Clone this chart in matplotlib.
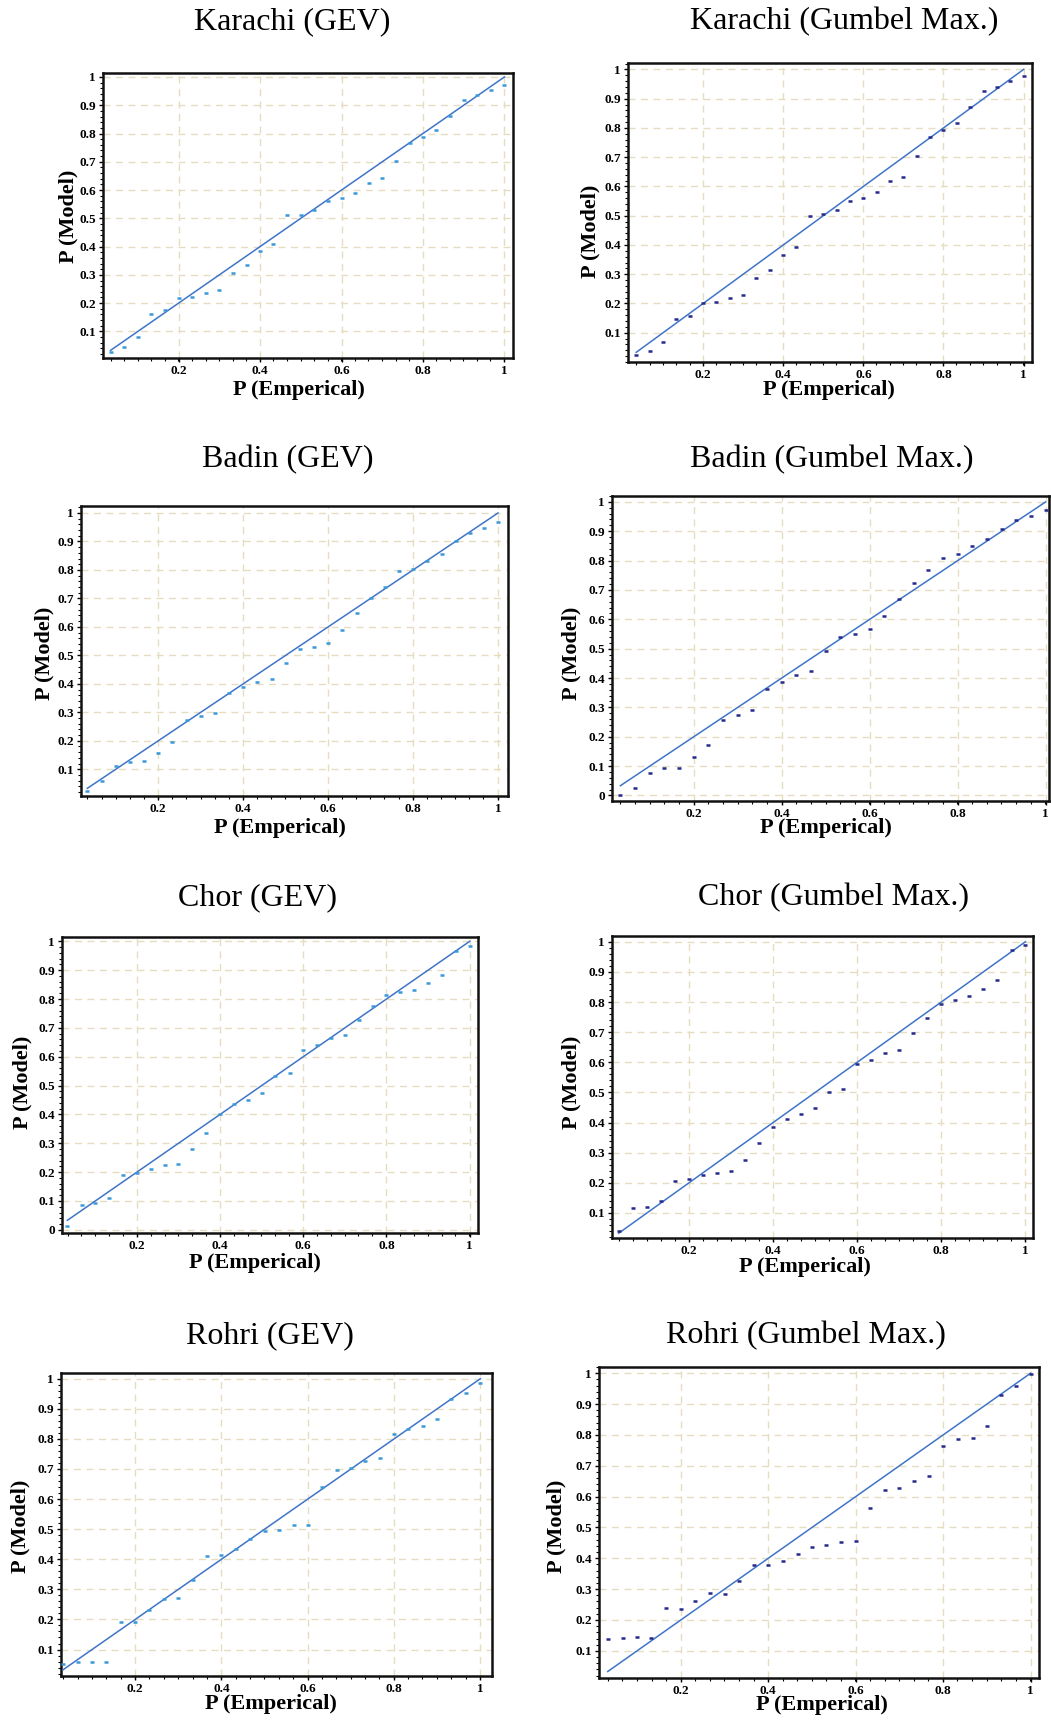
import matplotlib
matplotlib.use("Agg")
import matplotlib.pyplot as plt
from matplotlib.ticker import MultipleLocator, FuncFormatter

plt.rcParams['font.family'] = ['Liberation Serif', 'DejaVu Serif']

# empirical plotting positions (30 ranked years)
p_emp = [0.033, 0.067, 0.100, 0.133, 0.167, 0.200, 0.233, 0.267, 0.300, 0.333,
         0.367, 0.400, 0.433, 0.467, 0.500, 0.533, 0.567, 0.600, 0.633, 0.667,
         0.700, 0.733, 0.767, 0.800, 0.833, 0.867, 0.900, 0.933, 0.967, 1.000]

# model probabilities per station / distribution
karachi_gev = [0.027, 0.045, 0.081, 0.163, 0.175, 0.217, 0.222, 0.236, 0.245, 0.307,
               0.334, 0.383, 0.410, 0.512, 0.512, 0.528, 0.560, 0.572, 0.590, 0.624,
               0.643, 0.704, 0.767, 0.788, 0.814, 0.862, 0.917, 0.935, 0.953, 0.973]
karachi_gum = [0.024, 0.037, 0.068, 0.148, 0.157, 0.202, 0.205, 0.219, 0.228, 0.288,
               0.316, 0.367, 0.393, 0.500, 0.506, 0.520, 0.549, 0.562, 0.581, 0.617,
               0.634, 0.705, 0.768, 0.793, 0.818, 0.870, 0.927, 0.941, 0.961, 0.978]
badin_gev = [0.022, 0.059, 0.112, 0.125, 0.129, 0.156, 0.197, 0.273, 0.287, 0.299,
             0.367, 0.388, 0.405, 0.416, 0.472, 0.524, 0.530, 0.544, 0.589, 0.647,
             0.700, 0.741, 0.795, 0.802, 0.832, 0.857, 0.900, 0.928, 0.947, 0.968]
badin_gum = [0.003, 0.026, 0.078, 0.094, 0.094, 0.131, 0.173, 0.258, 0.275, 0.292,
             0.364, 0.386, 0.409, 0.423, 0.491, 0.540, 0.551, 0.566, 0.610, 0.670,
             0.725, 0.767, 0.810, 0.824, 0.851, 0.872, 0.906, 0.938, 0.951, 0.972]
chor_gev = [0.012, 0.087, 0.092, 0.112, 0.190, 0.196, 0.211, 0.223, 0.227, 0.279,
            0.334, 0.400, 0.435, 0.450, 0.473, 0.534, 0.542, 0.625, 0.640, 0.665,
            0.675, 0.727, 0.775, 0.813, 0.825, 0.833, 0.857, 0.882, 0.965, 0.984]
chor_gum = [0.039, 0.117, 0.119, 0.139, 0.207, 0.214, 0.227, 0.233, 0.238, 0.277,
            0.332, 0.384, 0.413, 0.428, 0.448, 0.503, 0.511, 0.594, 0.608, 0.630,
            0.641, 0.696, 0.748, 0.792, 0.807, 0.820, 0.843, 0.873, 0.972, 0.989]
rohri_gev = [0.051, 0.059, 0.057, 0.059, 0.192, 0.192, 0.233, 0.269, 0.272, 0.330,
             0.410, 0.413, 0.433, 0.467, 0.493, 0.498, 0.515, 0.515, 0.640, 0.696,
             0.704, 0.727, 0.738, 0.817, 0.834, 0.842, 0.867, 0.933, 0.954, 0.986]
rohri_gum = [0.139, 0.141, 0.144, 0.143, 0.238, 0.235, 0.260, 0.287, 0.284, 0.327,
             0.377, 0.377, 0.390, 0.414, 0.436, 0.444, 0.452, 0.457, 0.562, 0.620,
             0.629, 0.652, 0.668, 0.765, 0.787, 0.789, 0.829, 0.928, 0.957, 0.997]

titles = ["Karachi (GEV)", "Karachi (Gumbel Max.)", "Badin (GEV)", "Badin (Gumbel Max.)",
          "Chor (GEV)", "Chor (Gumbel Max.)", "Rohri (GEV)", "Rohri (Gumbel Max.)"]
series = [karachi_gev, karachi_gum, badin_gev, badin_gum,
          chor_gev, chor_gum, rohri_gev, rohri_gum]

W, H = 1051, 1722
fig = plt.figure(figsize=(W / 100, H / 100), dpi=100)

# pixel layout: axes box (x0, y0, x1, y1), limits, title / label centres
panels = [
    dict(box=(103, 73, 513, 358), xl=(0.0145, 1.021), yl=(0.006, 1.014),
         title=(292, 22), ylab=(68, 216), xlab=(299, 390), zero=False),
    dict(box=(628, 63, 1032, 362), xl=(0.0125, 1.021), yl=(0.0, 1.022),
         title=(844, 22), ylab=(590, 231), xlab=(829, 390), zero=False),
    dict(box=(81, 506, 508, 796), xl=(0.018, 1.0235), yl=(0.006, 1.0245),
         title=(288, 460), ylab=(44, 653), xlab=(280, 828), zero=False),
    dict(box=(612, 496, 1049, 801), xl=(0.014, 1.0075), yl=(-0.019, 1.020),
         title=(832, 460), ylab=(571, 653), xlab=(826, 828), zero=True),
    dict(box=(62, 937, 478, 1233), xl=(0.02, 1.02), yl=(-0.011, 1.015),
         title=(258, 898), ylab=(22, 1082), xlab=(255, 1263), zero=True),
    dict(box=(612, 936, 1033, 1238), xl=(0.017, 1.018), yl=(0.017, 1.019),
         title=(833, 898), ylab=(571, 1082), xlab=(805, 1267), zero=False),
    dict(box=(61, 1373, 492, 1676), xl=(0.028, 1.027), yl=(0.012, 1.019),
         title=(270, 1336), ylab=(20, 1526), xlab=(271, 1704), zero=False),
    dict(box=(599, 1367, 1039, 1678), xl=(0.013, 1.019), yl=(0.012, 1.02),
         title=(806, 1336), ylab=(556, 1526), xlab=(822, 1705), zero=False),
]

line_col = '#3f74c8'
gev_col = '#3a98d8'
gum_col = '#262a8c'
grid_col = '#e6dcc0'


def tick_fmt(v, pos):
    if abs(v - 1) < 1e-6:
        return "1"
    if abs(v) < 1e-6:
        return "0"
    return "%.1f" % v


for k, (pn, ys, ttl) in enumerate(zip(panels, series, titles)):
    x0, y0, x1, y1 = pn['box']
    ax = fig.add_axes([x0 / W, 1 - y1 / H, (x1 - x0) / W, (y1 - y0) / H])
    pt_col = gev_col if k % 2 == 0 else gum_col

    ax.plot([p_emp[0], p_emp[-1]], [p_emp[0], p_emp[-1]], color=line_col, lw=1.1, zorder=3)
    ax.plot(p_emp, ys, linestyle='none', marker='_', markersize=3.5, mew=1.8,
            color=pt_col, zorder=4)

    ax.set_xlim(*pn['xl'])
    ax.set_ylim(*pn['yl'])
    ax.set_xticks([0.2, 0.4, 0.6, 0.8, 1.0])
    yt = [0.1, 0.2, 0.3, 0.4, 0.5, 0.6, 0.7, 0.8, 0.9, 1.0]
    if pn['zero']:
        yt = [0.0] + yt
    ax.set_yticks(yt)
    ax.xaxis.set_major_formatter(FuncFormatter(tick_fmt))
    ax.yaxis.set_major_formatter(FuncFormatter(tick_fmt))
    ax.yaxis.set_minor_locator(MultipleLocator(0.02))
    ax.xaxis.set_minor_locator(MultipleLocator(0.0333))

    ax.grid(True, which='major', linestyle=(0, (5, 4)), color=grid_col, lw=1.0, zorder=0)
    for s in ax.spines.values():
        s.set_linewidth(1.8)
        s.set_color('#111111')
    ax.tick_params(which='major', length=3, width=1, pad=2, labelsize=9.5)
    ax.tick_params(which='minor', length=2, width=0.8)
    for lab in ax.get_xticklabels() + ax.get_yticklabels():
        lab.set_fontweight('bold')

    tx, ty = pn['title']
    fig.text(tx / W, 1 - ty / H, ttl, ha='center', va='center', fontsize=23)
    lx, ly = pn['xlab']
    fig.text(lx / W, 1 - ly / H, "P (Emperical)", ha='center', va='center',
             fontsize=16, fontweight='bold')
    yx, yy = pn['ylab']
    fig.text(yx / W, 1 - yy / H, "P (Model)", ha='center', va='center',
             fontsize=16, fontweight='bold', rotation=90)

fig.savefig("out.png", dpi=100)
